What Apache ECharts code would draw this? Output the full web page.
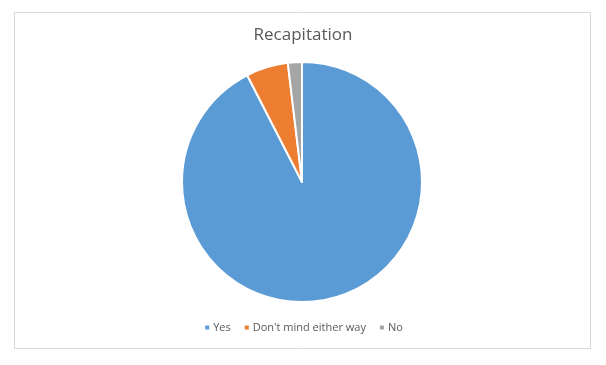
<!DOCTYPE html>
<html><head><meta charset="utf-8">
<script src="https://cdn.jsdelivr.net/npm/echarts@6/dist/echarts.min.js"></script>
<style>html,body{margin:0;padding:0;background:#fff}#c{width:606px;height:365px}</style>
</head><body><div id="c"></div>
<script>
const categories = ["Yes", "Don't mind either way", "No"];
const values = [49, 3, 1];
const colors = ['#5B9BD5', '#ED7D31', '#A5A5A5'];
const chart = echarts.init(document.getElementById('c'), null, {renderer: 'canvas'});
chart.setOption({
  animation: false,
  backgroundColor: '#fff',
  color: colors,
  graphic: [{type: 'rect', shape: {x: 14.5, y: 12.5, width: 576, height: 336}, style: {fill: 'none', stroke: '#d9d9d9', lineWidth: 1}, silent: true}],
  title: {text: 'Recapitation', left: 'center', top: 22, textStyle: {fontFamily: 'Open Sans', fontSize: 17, fontWeight: 'normal', color: '#595959'}},
  legend: {bottom: 27, left: 'center', itemWidth: 6, itemHeight: 6, itemGap: 12, icon: 'rect',
    textStyle: {fontFamily: 'Open Sans', fontSize: 11, color: '#595959', padding: [0,0,0,-2]},
    data: categories},
  series: [{type: 'pie', center: [302, 182], radius: 120, startAngle: 90, clockwise: true,
    label: {show: false}, labelLine: {show: false},
    itemStyle: {borderColor: '#fff', borderWidth: 2},
    data: categories.map((n, i) => ({name: n, value: values[i]}))}]
});
</script></body></html>
